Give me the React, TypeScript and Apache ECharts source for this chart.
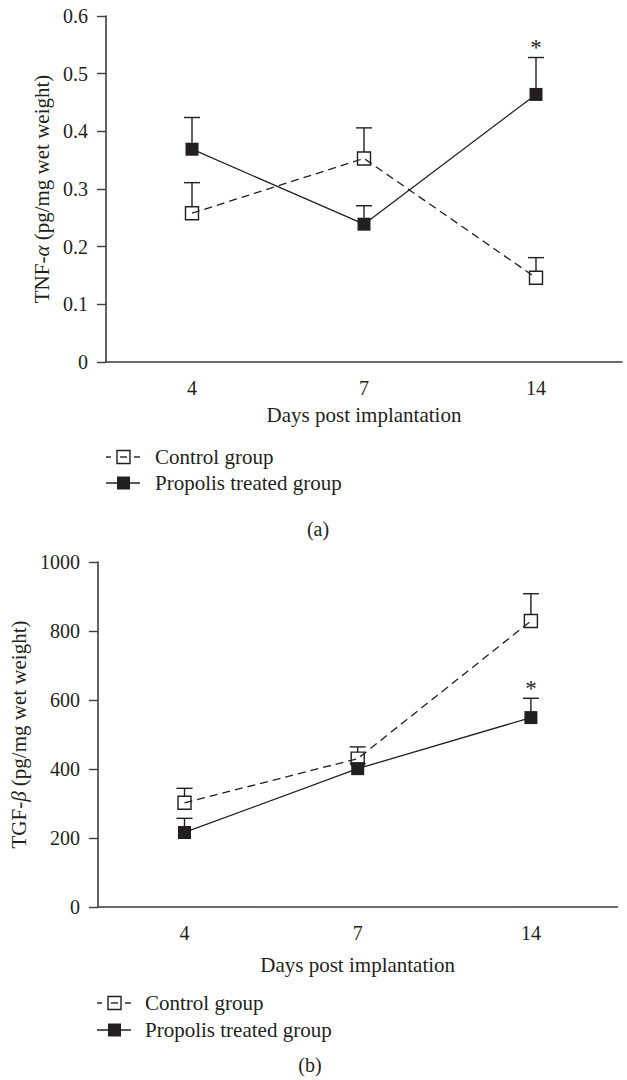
import { useEffect, useRef } from "react";
import * as echarts from "echarts";

// ---- data ----
const days = ["4", "7", "14"];
const tnfControl = [0.258, 0.353, 0.146];
const tnfControlSem = [0.053, 0.053, 0.035];
const tnfPropolis = [0.369, 0.239, 0.464];
const tnfPropolisSem = [0.055, 0.032, 0.064];
const tnfPropolisSig = [0, 0, 1];
const tgfControl = [302, 430, 829];
const tgfControlSem = [42, 34, 79];
const tgfPropolis = [216, 401, 549];
const tgfPropolisSem = [41, 15, 56];
const tgfPropolisSig = [0, 0, 1];
const legendNames = ["Control group", "Propolis treated group"];
const panelLabels = ["(a)", "(b)"];
const xName = "Days post implantation";
const yNames = ["TNF-{i|α} (pg/mg wet weight)", "TGF-{i|β} (pg/mg wet weight)"];

const INK = "#231f20";
const AXIS = "#3d3b3c";
const FONT = "'Liberation Serif', 'DejaVu Serif', serif";
const HALF = 6.5;

function errRender(params: any, api: any) {
  const i = api.value(0);
  const mean = api.value(1);
  const upper = api.value(2);
  const sig = api.value(3);
  const p0 = api.coord([i, mean]);
  const p1 = api.coord([i, upper]);
  const st = { stroke: INK, lineWidth: 1.4 };
  const children: any[] = [
    { type: "line", shape: { x1: p0[0], y1: p0[1] - HALF, x2: p1[0], y2: p1[1] }, style: st },
    { type: "line", shape: { x1: p1[0] - 8, y1: p1[1], x2: p1[0] + 8, y2: p1[1] }, style: st },
  ];
  if (sig) {
    children.push({
      type: "text",
      x: p1[0],
      y: p1[1] - 10,
      style: { text: "*", fontSize: 23, fontFamily: FONT, fill: INK, align: "center", verticalAlign: "middle" },
    });
  }
  return { type: "group", children };
}

function errData(vals: number[], sem: number[], sig?: number[]) {
  return vals.map((v, i) => [i, v, v + sem[i], sig ? sig[i] : 0]);
}

function legendGraphic(x0: number, y1: number, y2: number, tx: number) {
  const st = { stroke: INK, lineWidth: 1.4 };
  const txt = (y: number, t: string) => ({
    type: "text",
    x: tx,
    y,
    style: { text: t, fontSize: 21, fontFamily: FONT, fill: INK, align: "left", verticalAlign: "middle" },
  });
  return [
    { type: "line", shape: { x1: x0, y1: y1, x2: x0 + 5, y2: y1 }, style: st },
    { type: "rect", shape: { x: x0 + 11, y: y1 - HALF, width: 13, height: 13 }, style: { fill: "none", stroke: INK, lineWidth: 1.4 } },
    { type: "line", shape: { x1: x0 + 14, y1: y1, x2: x0 + 21, y2: y1 }, style: st },
    { type: "line", shape: { x1: x0 + 28, y1: y1, x2: x0 + 34, y2: y1 }, style: st },
    txt(y1, legendNames[0]),
    { type: "line", shape: { x1: x0, y1: y2, x2: x0 + 34, y2: y2 }, style: st },
    { type: "rect", shape: { x: x0 + 11, y: y2 - HALF, width: 13, height: 13 }, style: { fill: INK } },
    txt(y2, legendNames[1]),
  ];
}

function xAxisCfg(grid: number, gap: number) {
  return {
    type: "category",
    gridIndex: grid,
    data: days,
    boundaryGap: true,
    axisLine: { lineStyle: { color: AXIS, width: 1.6 } },
    axisTick: { alignWithLabel: true, length: 9, lineStyle: { color: AXIS, width: 1.4 } },
    axisLabel: { fontSize: 20, fontFamily: FONT, color: INK, margin: 16 },
    name: xName,
    nameLocation: "middle",
    nameGap: gap,
    nameTextStyle: { fontSize: 21, fontFamily: FONT, color: INK },
  };
}

function yAxisCfg(grid: number, max: number, interval: number, name: string, gap: number) {
  return {
    type: "value",
    gridIndex: grid,
    min: 0,
    max,
    interval,
    axisLine: { show: true, lineStyle: { color: AXIS, width: 1.6 } },
    axisTick: { show: true, length: 9, lineStyle: { color: AXIS, width: 1.4 } },
    splitLine: { show: false },
    axisLabel: {
      fontSize: 20,
      fontFamily: FONT,
      color: INK,
      margin: 18,
      formatter: (v: number) => String(Math.round(v * 1000) / 1000),
    },
    name,
    nameLocation: "middle",
    nameGap: gap,
    nameRotate: 90,
    nameTextStyle: {
      fontSize: 21,
      fontFamily: FONT,
      color: INK,
      rich: { i: { fontStyle: "italic", fontSize: 21, fontFamily: FONT, color: INK } },
    },
  };
}

function lineSeries(grid: number, name: string, data: number[], open: boolean) {
  return {
    type: "line",
    name,
    xAxisIndex: grid,
    yAxisIndex: grid,
    data,
    symbol: "rect",
    symbolSize: 13,
    lineStyle: open ? { color: INK, width: 1.3, type: [8, 5] } : { color: INK, width: 1.3 },
    itemStyle: open
      ? { color: "rgba(0,0,0,0)", borderColor: INK, borderWidth: 1.4 }
      : { color: INK, borderWidth: 0 },
    z: open ? 3 : 4,
    silent: true,
  };
}

export default function App() {
  const ref = useRef<HTMLDivElement>(null);
  useEffect(() => {
    if (!ref.current) return;
    const chart = echarts.init(ref.current, undefined, { renderer: "svg" });
    chart.setOption({
      animation: false,
      backgroundColor: "#ffffff",
      grid: [
        { left: 106, top: 16, width: 516, height: 346 },
        { left: 97, top: 562, width: 520.5, height: 345 },
      ],
      xAxis: [xAxisCfg(0, 42), xAxisCfg(1, 47)],
      yAxis: [yAxisCfg(0, 0.6, 0.1, yNames[0], 53), yAxisCfg(1, 1000, 200, yNames[1], 62)],
      series: [
        { type: "custom", xAxisIndex: 0, yAxisIndex: 0, renderItem: errRender, data: errData(tnfControl, tnfControlSem), z: 1, silent: true },
        { type: "custom", xAxisIndex: 0, yAxisIndex: 0, renderItem: errRender, data: errData(tnfPropolis, tnfPropolisSem, tnfPropolisSig), z: 1, silent: true },
        lineSeries(0, legendNames[0], tnfControl, true),
        lineSeries(0, legendNames[1], tnfPropolis, false),
        { type: "custom", xAxisIndex: 1, yAxisIndex: 1, renderItem: errRender, data: errData(tgfControl, tgfControlSem), z: 1, silent: true },
        { type: "custom", xAxisIndex: 1, yAxisIndex: 1, renderItem: errRender, data: errData(tgfPropolis, tgfPropolisSem, tgfPropolisSig), z: 1, silent: true },
        lineSeries(1, legendNames[0], tgfControl, true),
        lineSeries(1, legendNames[1], tgfPropolis, false),
      ],
      graphic: [
        ...legendGraphic(106, 457, 483, 155),
        ...legendGraphic(97, 1003, 1030, 145),
        { type: "text", x: 318, y: 529, style: { text: panelLabels[0], fontSize: 20, fontFamily: FONT, fill: INK, align: "center", verticalAlign: "middle" } },
        { type: "text", x: 310, y: 1065, style: { text: panelLabels[1], fontSize: 20, fontFamily: FONT, fill: INK, align: "center", verticalAlign: "middle" } },
      ],
    });
    return () => chart.dispose();
  }, []);
  return (
    <div
      ref={ref}
      style={{ position: "absolute", left: 0, top: 0, width: 627, height: 1080, background: "#fff" }}
    />
  );
}
